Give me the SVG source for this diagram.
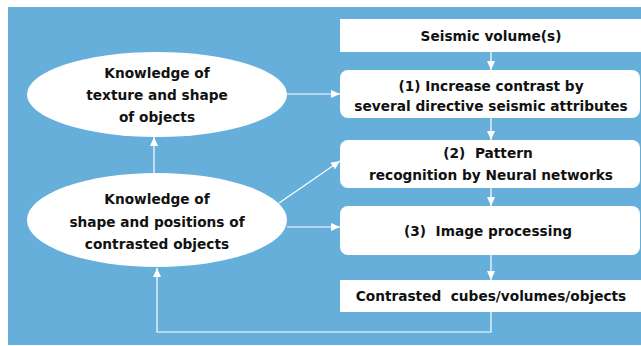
<svg xmlns="http://www.w3.org/2000/svg" width="641" height="346" viewBox="0 0 641 346">
<style>
text{font-family:"DejaVu Sans",Verdana,sans-serif;font-weight:bold;font-size:13.7px;fill:#111;text-anchor:middle}
.box{fill:#fff}
.ell{fill:#fff}
.c{stroke:#fff;stroke-width:1.2;fill:none}
</style>
<defs>
<marker id="ah" markerWidth="10" markerHeight="10" refX="9" refY="5" orient="auto" markerUnits="userSpaceOnUse">
<path d="M0,1 L9,5 L0,9 z" fill="#fff"/>
</marker>
</defs>
<rect width="641" height="346" fill="#fff"/>
<rect x="8" y="7" width="633" height="338" fill="#66afdb"/>
<g id="connectors">
<line class="c" x1="491" y1="52" x2="491" y2="70" marker-end="url(#ah)"/>
<line class="c" x1="491" y1="118" x2="491" y2="140" marker-end="url(#ah)"/>
<line class="c" x1="491" y1="188" x2="491" y2="206" marker-end="url(#ah)"/>
<line class="c" x1="491" y1="255" x2="491" y2="280" marker-end="url(#ah)"/>
<line class="c" x1="287" y1="94" x2="340" y2="94" marker-end="url(#ah)"/>
<line class="c" x1="154" y1="173" x2="154" y2="137" marker-end="url(#ah)"/>
<line class="c" x1="279" y1="203" x2="340" y2="161" marker-end="url(#ah)"/>
<line class="c" x1="287" y1="227" x2="340" y2="227" marker-end="url(#ah)"/>
<polyline class="c" points="491,312 491,332 157,332 157,268" marker-end="url(#ah)"/>
</g>
<g id="seismic">
<rect class="box" x="340" y="19" width="301" height="33"/>
<text x="491" y="41">Seismic volume(s)</text>
</g>
<g id="step1">
<rect class="box" x="340" y="70" width="300" height="48" rx="8"/>
<text x="491" y="91">(1) Increase contrast by</text>
<text x="491" y="111">several directive seismic attributes</text>
</g>
<g id="step2">
<rect class="box" x="340" y="140" width="300" height="48" rx="8"/>
<text x="488" y="158" xml:space="preserve">(2)  Pattern</text>
<text x="491" y="180">recognition by Neural networks</text>
</g>
<g id="step3">
<rect class="box" x="340" y="206" width="300" height="49" rx="8"/>
<text x="488" y="236" xml:space="preserve">(3)  Image processing</text>
</g>
<g id="contrasted">
<rect class="box" x="340" y="280" width="301" height="32"/>
<text x="491" y="301" xml:space="preserve">Contrasted  cubes/volumes/objects</text>
</g>
<g id="knowledge-texture">
<ellipse class="ell" cx="157" cy="94.5" rx="130" ry="42.5"/>
<text x="157" y="78">Knowledge of</text>
<text x="157" y="100">texture and shape</text>
<text x="157" y="122">of objects</text>
</g>
<g id="knowledge-shape">
<ellipse class="ell" cx="157" cy="220" rx="130" ry="47"/>
<text x="157" y="204">Knowledge of</text>
<text x="157" y="227">shape and positions of</text>
<text x="157" y="249">contrasted objects</text>
</g>
</svg>
